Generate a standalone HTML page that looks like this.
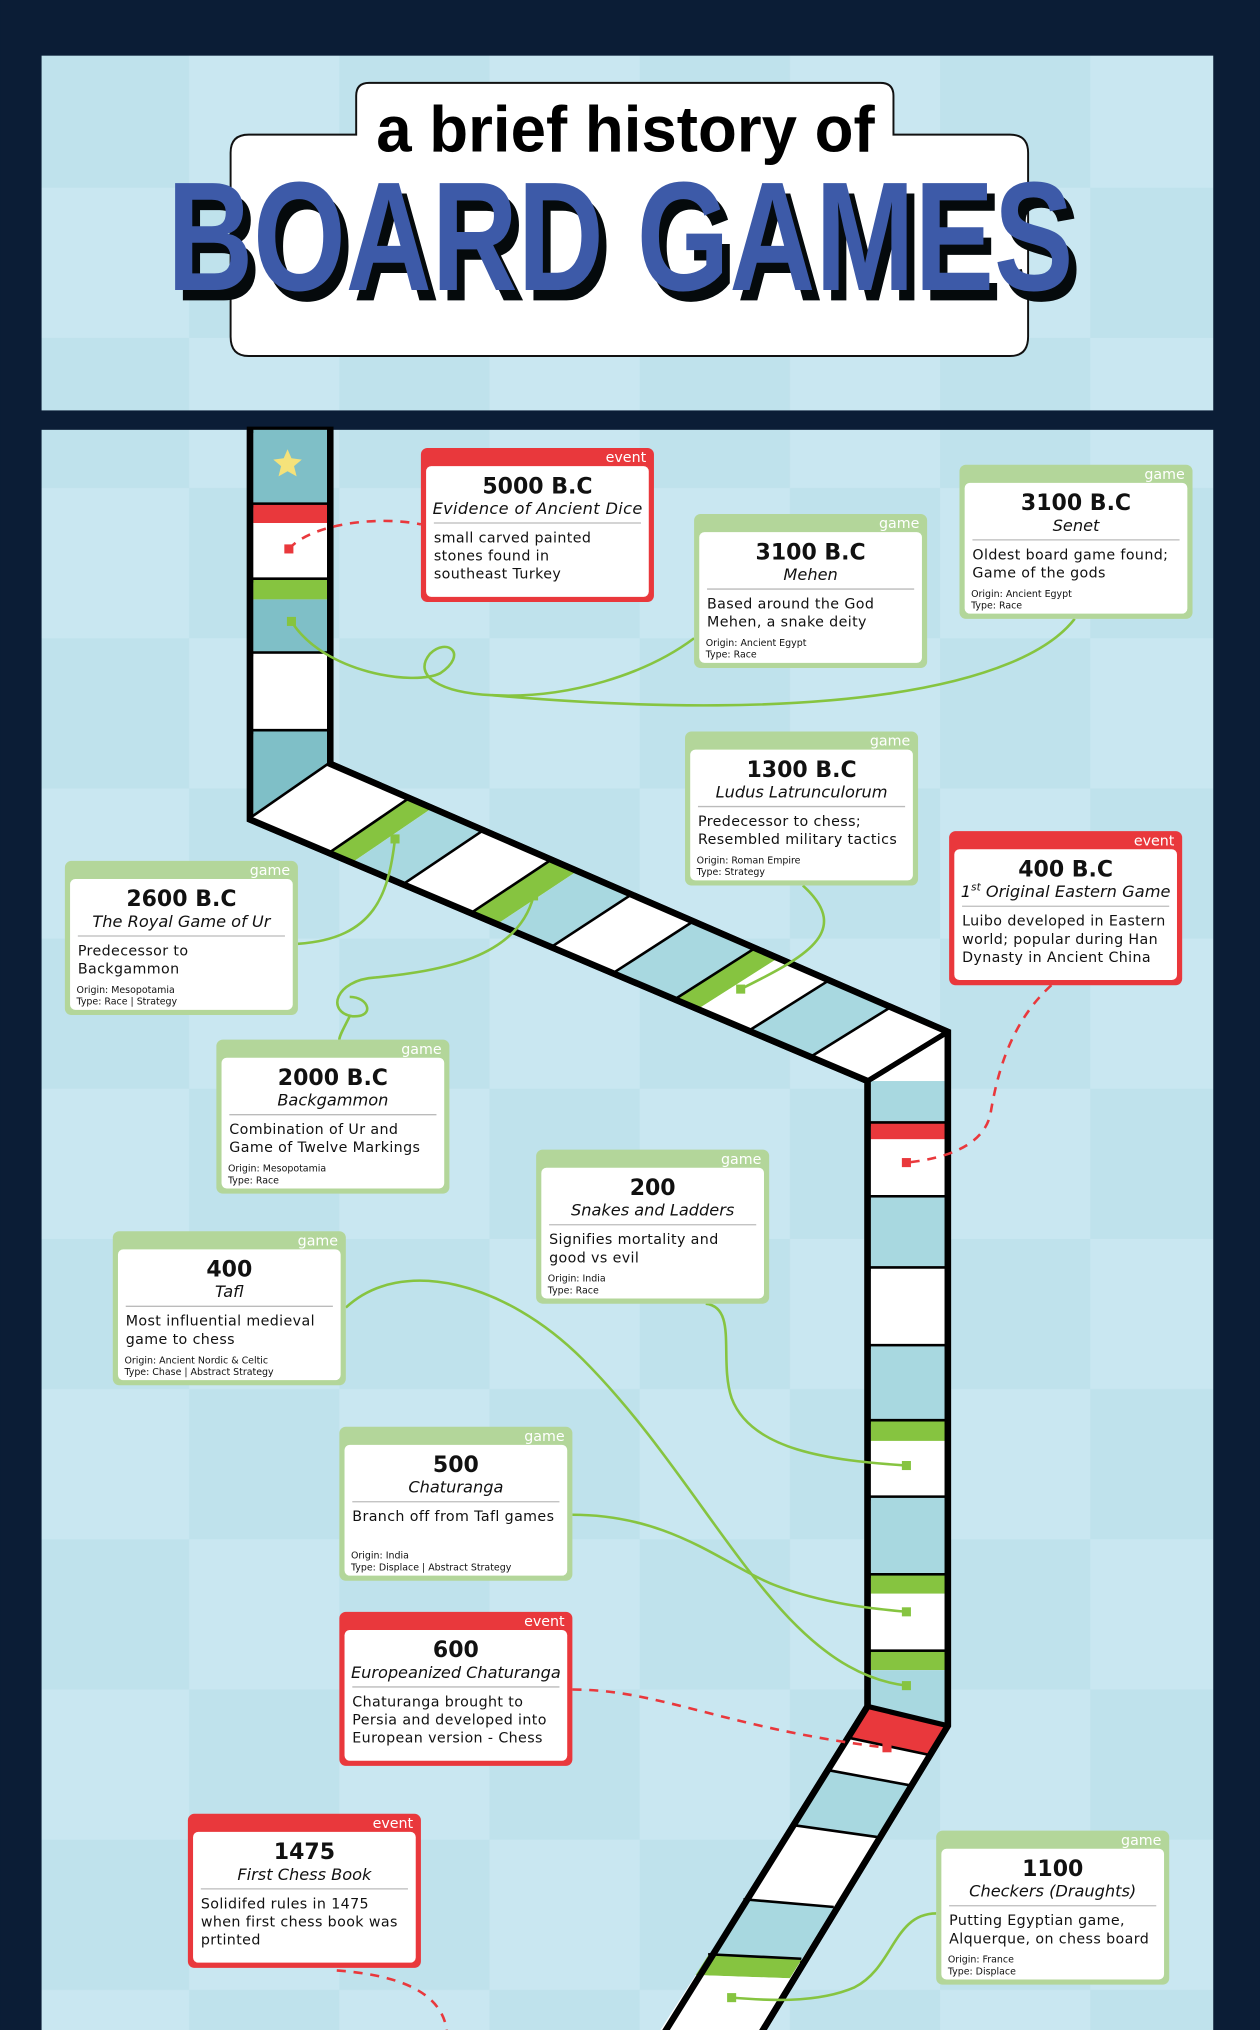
<!DOCTYPE html>
<html><head><meta charset="utf-8"><style>
html,body{margin:0;padding:0;background:#0b1d36;}
svg{display:block;}
</style></head><body>
<svg id="root" width="1260" height="2030" viewBox="0 0 973 1568" xmlns="http://www.w3.org/2000/svg">
<defs>
<pattern id="chk" x="30" y="29" width="232" height="232" patternUnits="userSpaceOnUse">
<rect width="232" height="232" fill="#c9e7f1"/>
<rect width="116" height="116" fill="#bfe2ec"/>
<rect x="116" y="116" width="116" height="116" fill="#bfe2ec"/>
</pattern>
</defs>
<rect width="973" height="1568" fill="#0b1d36"/>
<rect x="32" y="43" width="905" height="274" fill="url(#chk)"/>
<rect x="32" y="332" width="905" height="1240" fill="url(#chk)"/>

<g>
<path d="M178,118 Q178,104 192,104 L275,104 L275,74 Q275,64 285,64 L680,64 Q690,64 690,74 L690,104 L780,104 Q794,104 794,118 L794,260 Q794,275 780,275 L192,275 Q178,275 178,260 Z" fill="#fff" stroke="#111" stroke-width="1.5"/>
<text x="483" y="117" text-anchor="middle" font-family="'Liberation Sans Narrow','Liberation Sans',sans-serif" font-weight="bold" font-size="50" textLength="385" lengthAdjust="spacingAndGlyphs" fill="#000">a brief history of</text>
<text x="485" y="232" text-anchor="middle" font-family="'Liberation Sans Narrow','Liberation Sans',sans-serif" font-weight="bold" font-size="120" textLength="700" lengthAdjust="spacingAndGlyphs" fill="#050a0c">BOARD GAMES</text>
<text x="479" y="224" text-anchor="middle" font-family="'Liberation Sans Narrow','Liberation Sans',sans-serif" font-weight="bold" font-size="120" textLength="700" lengthAdjust="spacingAndGlyphs" fill="#3d5aa8">BOARD GAMES</text>
</g>

<g id="track"></g>
<g id="links"></g>
<g id="cards"></g>
</svg>
<script>
const NS='http://www.w3.org/2000/svg';
function mk(tag,attrs,parent){const e=document.createElementNS(NS,tag);for(const k in attrs)e.setAttribute(k,attrs[k]);parent.appendChild(e);return e;}
const track=document.getElementById('track');
const TEAL='#a8d8e0',TEAL2='#7fbfc7',WHITE='#fff',GREEN='#86c440',RED='#e9383c';
const outline=mk('path',{d:'M193,332 L193,633 L670,835 L670,1318 L510,1575 L585,1575 L732,1333 L732,797 L255,590 L255,332 Z',fill:'#fff',stroke:'#000','stroke-width':5,'stroke-linejoin':'miter'},track);


const seg1=[[332,390,TEAL2],[390,404,RED],[404,448,WHITE],[448,463,GREEN],[463,505,TEAL2],[505,565,WHITE]];
seg1.forEach(c=>{const r=mk('rect',{x:195.5,y:c[0],width:57,height:c[1]-c[0],fill:c[2]},track);


if(c[2]!==RED&&c[2]!==GREEN)mk('line',{x1:193,x2:255,y1:c[1],y2:c[1],stroke:'#000','stroke-width':4},track);});
const lastCell=mk('polygon',{points:'195.5,565 252.5,565 252.5,592 195.5,631',fill:TEAL2},track);


mk('line',{x1:193,y1:633,x2:255,y2:590,stroke:'#000','stroke-width':4},track);
const A1=[255,590],A2=[732,797],B1=[193,633],B2=[670,835];
function lp(a,b,t){return [a[0]+(b[0]-a[0])*t,a[1]+(b[1]-a[1])*t];}
const seg2=[[0,.13,WHITE],[.13,.165,GREEN],[.165,.25,TEAL],[.25,.36,WHITE],[.36,.40,GREEN],[.40,.49,TEAL],[.49,.59,WHITE],[.59,.69,TEAL],[.69,.725,GREEN],[.725,.81,WHITE],[.81,.91,TEAL],[.91,1,WHITE]];
seg2.forEach(c=>{const p=[lp(A1,A2,c[0]),lp(A1,A2,c[1]),lp(B1,B2,c[1]),lp(B1,B2,c[0])];
const e=mk('polygon',{points:p.map(q=>q.join(',')).join(' '),fill:c[2]},track);


if(c[2]!==GREEN){const a=lp(A1,A2,c[1]),b=lp(B1,B2,c[1]);mk('line',{x1:a[0],y1:a[1],x2:b[0],y2:b[1],stroke:'#000','stroke-width':4},track);}});
const seg3=[[835,868,TEAL],[868,880,RED],[880,925,WHITE],[925,980,TEAL],[980,1040,WHITE],[1040,1098,TEAL],[1098,1113,GREEN],[1113,1157,WHITE],[1157,1217,TEAL],[1217,1231,GREEN],[1231,1276,WHITE],[1276,1290,GREEN],[1290,1333,TEAL]];
seg3.forEach(c=>{const r=mk('rect',{x:672.5,y:c[0],width:57,height:c[1]-c[0],fill:c[2]},track);


if(c[2]!==RED&&c[2]!==GREEN)mk('line',{x1:670,x2:732,y1:c[1],y2:c[1],stroke:'#000','stroke-width':4},track);});
const C1=[732,1333],C2=[585,1568],D1=[670,1318],D2=[510,1568];
const seg4=[[0,.1,RED],[.1,.2,WHITE],[.2,.37,TEAL],[.37,.6,WHITE],[.6,.77,TEAL],[.77,.83,GREEN],[.83,1,WHITE]];
seg4.forEach(c=>{const p=[lp(C1,C2,c[0]),lp(C1,C2,c[1]),lp(D1,D2,c[1]),lp(D1,D2,c[0])];
const e=mk('polygon',{points:p.map(q=>q.join(',')).join(' '),fill:c[2]},track);


if(c[2]!==GREEN&&c[1]<1){const a=lp(C1,C2,c[1]),b=lp(D1,D2,c[1]);mk('line',{x1:a[0],y1:a[1],x2:b[0],y2:b[1],stroke:'#000','stroke-width':4},track);}});
const ol2=mk('path',{d:'M193,332 L193,633 L670,835 L670,1318 L510,1575 M585,1575 L732,1333 L732,797 L255,590 L255,332',fill:'none',stroke:'#000','stroke-width':5},track);


mk('line',{x1:670,y1:835,x2:732,y2:797,stroke:'#000','stroke-width':4},track);
mk('line',{x1:670,y1:1318,x2:732,y2:1333,stroke:'#000','stroke-width':4},track);
const star=mk('polygon',{points:'222,347 225,354 233,355 227,360 229,368 222,364 215,368 217,360 211,355 219,354',fill:'#f5e27a'},track);



const links=document.getElementById('links');
const linkD=[
['M223,424 C240,405 290,398 325,405',RED,true,[223,424]],
['M225,480 C250,520 320,530 340,520 C362,505 345,492 332,505 C318,522 340,535 380,537 C440,540 500,520 536,493',GREEN,false,[225,480]],
['M830,478 C790,530 640,560 380,537',GREEN,false,null],
['M230,729 C290,725 300,690 305,648',GREEN,false,[305,648]],
['M412,692 C400,740 340,750 290,755 C258,757 252,782 272,785 C290,786 285,770 270,770',GREEN,false,[412,692]],
['M270,785 C265,795 262,800 262,803',GREEN,false,null],
['M620,684 C660,720 620,740 572,764',GREEN,false,[572,764]],
['M812,761 C780,790 770,830 765,860 C760,885 730,895 700,898',RED,true,[700,898]],
['M545,1007 C570,1010 555,1050 565,1080 C580,1120 640,1128 700,1132',GREEN,false,[700,1132]],
['M267,1010 C310,970 390,990 450,1050 C550,1150 600,1290 700,1302',GREEN,false,[700,1302]],
['M442,1170 C520,1170 560,1210 600,1225 C640,1240 680,1243 700,1245',GREEN,false,[700,1245]],
['M442,1305 C510,1305 560,1335 685,1350',RED,true,[685,1350]],
['M723,1478 C690,1478 690,1520 660,1535 C630,1548 590,1545 565,1543',GREEN,false,[565,1543]],
['M260,1522 C300,1525 340,1535 345,1568',RED,true,null]
];
linkD.forEach(l=>{const p=mk('path',{d:l[0],fill:'none',stroke:l[1],'stroke-width':2},links);
if(l[2])p.setAttribute('stroke-dasharray','7,6');


if(l[3]){const s=mk('rect',{x:l[3][0]-3.5,y:l[3][1]-3.5,width:7,height:7,fill:l[1]},links);

}});

const cards=document.getElementById('cards');
const cardData=[
['event',325,346,'5000 B.C','Evidence of Ancient Dice',['small carved painted','stones found in','southeast Turkey'],[]],
['game',536,397,'3100 B.C','Mehen',['Based around the God','Mehen, a snake deity'],['Origin: Ancient Egypt','Type: Race']],
['game',741,359,'3100 B.C','Senet',['Oldest board game found;','Game of the gods'],['Origin: Ancient Egypt','Type: Race']],
['game',529,565,'1300 B.C','Ludus Latrunculorum',['Predecessor to chess;','Resembled military tactics'],['Origin: Roman Empire','Type: Strategy']],
['event',733,642,'400 B.C','1st Original Eastern Game',['Luibo developed in Eastern','world; popular during Han','Dynasty in Ancient China'],[]],
['game',50,665,'2600 B.C','The Royal Game of Ur',['Predecessor to','Backgammon'],['Origin: Mesopotamia','Type: Race | Strategy']],
['game',167,803,'2000 B.C','Backgammon',['Combination of Ur and','Game of Twelve Markings'],['Origin: Mesopotamia','Type: Race']],
['game',414,888,'200','Snakes and Ladders',['Signifies mortality and','good vs evil'],['Origin: India','Type: Race']],
['game',87,951,'400','Tafl',['Most influential medieval','game to chess'],['Origin: Ancient Nordic & Celtic','Type: Chase | Abstract Strategy']],
['game',262,1102,'500','Chaturanga',['Branch off from Tafl games'],['Origin: India','Type: Displace | Abstract Strategy']],
['event',262,1245,'600','Europeanized Chaturanga',['Chaturanga brought to','Persia and developed into','European version - Chess'],[]],
['event',145,1401,'1475','First Chess Book',['Solidifed rules in 1475','when first chess book was','prtinted'],[]],
['game',723,1414,'1100','Checkers (Draughts)',['Putting Egyptian game,','Alquerque, on chess board'],['Origin: France','Type: Displace']]
];
const F="'DejaVu Sans','Liberation Sans',sans-serif";
cardData.forEach(c=>{
const [kind,x,y,yr,name,desc,meta]=c;const W=180,H=119;
const g=mk('g',{},cards);


const col=kind==='game'?'#b3d69a':'#e9383c';
mk('rect',{x:x,y:y,width:W,height:H,rx:5,fill:col},g);
mk('rect',{x:x+4,y:y+14,width:W-8,height:H-18,rx:4,fill:'#fff'},g);
const lab=mk('text',{x:x+W-6,y:y+11,'text-anchor':'end','font-family':F,'font-size':11,fill:'#fff'},g);lab.textContent=kind;
const t=mk('text',{x:x+W/2,y:y+35,'text-anchor':'middle','font-family':F,'font-weight':'bold','font-size':17,fill:'#111'},g);t.textContent=yr;
const s=mk('text',{x:x+W/2,y:y+51,'text-anchor':'middle','font-family':F,'font-style':'italic','font-size':12.5,fill:'#111'},g);
if(name.startsWith('1st ')){s.innerHTML='1<tspan font-size="8" dy="-5">st</tspan><tspan dy="5"> Original Eastern Game</tspan>';}else s.textContent=name;
if(name.length>22)s.setAttribute('textLength','162');
mk('line',{x1:x+10,x2:x+W-10,y1:y+58,y2:y+58,stroke:'#bbb','stroke-width':1},g);
desc.forEach((d,i)=>{const e=mk('text',{x:x+10,y:y+73+i*14,'font-family':F,'font-size':11,'letter-spacing':0.3,fill:'#111'},g);e.textContent=d;});
meta.forEach((d,i)=>{const e=mk('text',{x:x+9,y:y+102+i*9,'font-family':F,'font-size':7.3,fill:'#111'},g);e.textContent=d;});
});
</script>
</body></html>
